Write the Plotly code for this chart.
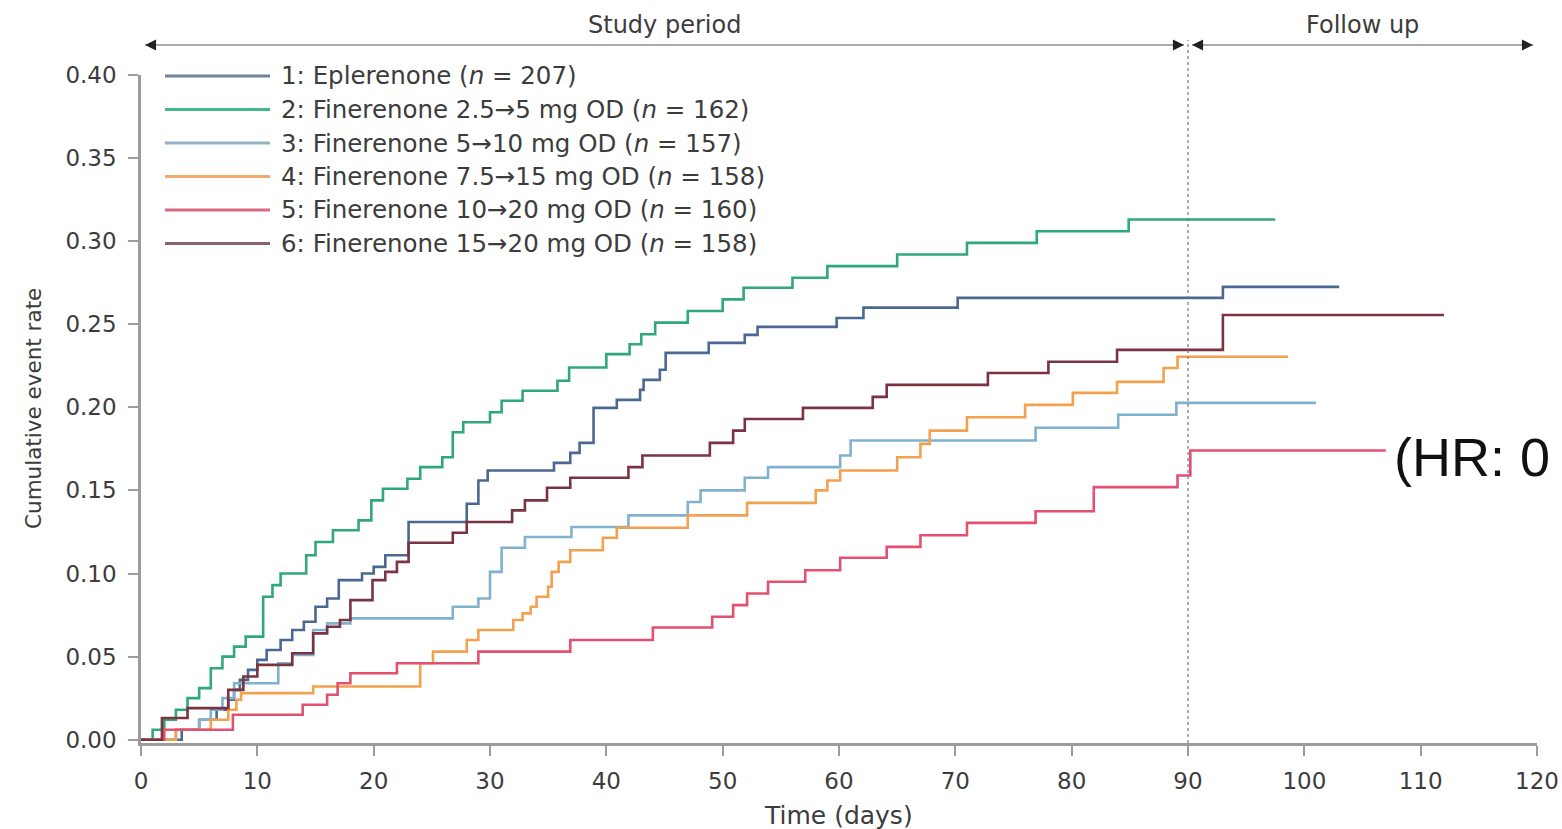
import plotly.graph_objects as go

# ---------------- data ----------------
labels = [
    "1: Eplerenone (<i>n</i> = 207)",
    "2: Finerenone 2.5→5 mg OD (<i>n</i> = 162)",
    "3: Finerenone 5→10 mg OD (<i>n</i> = 157)",
    "4: Finerenone 7.5→15 mg OD (<i>n</i> = 158)",
    "5: Finerenone 10→20 mg OD (<i>n</i> = 160)",
    "6: Finerenone 15→20 mg OD (<i>n</i> = 158)",
]

t_grp1 = [0, 3.5, 5, 6.5, 7.5, 8, 8.5, 9.2, 10, 10.8, 12, 13, 14, 15, 16, 17, 19, 20, 21, 23,
          28, 29, 29.8, 35.5, 36.9, 37.7, 38.9, 40.9, 42.9, 43.2, 44.6, 45.1, 48.8, 51.9, 53,
          59.8, 62.1, 70.2, 93]
y_grp1 = [0, 0.006, 0.012, 0.018, 0.024, 0.030, 0.036, 0.042, 0.048, 0.054, 0.060, 0.066, 0.071,
          0.080, 0.085, 0.096, 0.100, 0.104, 0.111, 0.131, 0.142, 0.156, 0.162, 0.1666, 0.1726,
          0.1786, 0.1997, 0.2045, 0.2105, 0.2165, 0.2226, 0.2328, 0.2388, 0.2436, 0.2484, 0.2538,
          0.260, 0.2659, 0.2725]

t_grp2 = [0, 1, 2, 3, 4, 5, 6, 7, 8, 9, 10.5, 11.3, 12, 14.2, 15, 16.5, 18.7, 19.8, 20.8, 22.9,
          24, 25.9, 26.8, 27.7, 30, 31, 32.8, 35.8, 36.8, 40, 42, 43, 44.2, 47, 50, 51.8, 56, 59,
          65, 71, 77, 84.9]
y_grp2 = [0, 0.006, 0.012, 0.018, 0.025, 0.031, 0.043, 0.050, 0.056, 0.062, 0.086, 0.093, 0.100,
          0.111, 0.119, 0.126, 0.132, 0.144, 0.151, 0.157, 0.164, 0.170, 0.185, 0.191, 0.197,
          0.204, 0.210, 0.216, 0.224, 0.232, 0.238, 0.244, 0.251, 0.258, 0.265, 0.272, 0.278,
          0.285, 0.292, 0.299, 0.306, 0.313]

t_grp3 = [0, 3, 5, 6, 7, 8, 11.8, 13, 14.8, 16, 18, 26.8, 29, 30, 31, 33, 37, 41.9, 47, 48.1,
          51.9, 53.9, 60.1, 61, 76.9, 84, 89]
y_grp3 = [0, 0.006, 0.012, 0.018, 0.025, 0.034, 0.046, 0.051, 0.066, 0.070, 0.073, 0.080, 0.085,
          0.101, 0.1155, 0.122, 0.128, 0.135, 0.143, 0.150, 0.1576, 0.164, 0.171, 0.180, 0.1877,
          0.1955, 0.2027]

t_grp4 = [0, 3, 6, 7.5, 8.2, 8.6, 14.8, 24.0, 25.1, 28.0, 29.0, 32.0, 32.8, 33.5, 34.0, 35.0,
          35.3, 35.9, 36.9, 39.7, 40.9, 47.0, 52.1, 58.0, 59.0, 60.1, 65.0, 67.0, 67.8, 71.0,
          76.0, 80.1, 83.9, 87.9, 89.1]
y_grp4 = [0, 0.006, 0.012, 0.018, 0.024, 0.028, 0.032, 0.046, 0.053, 0.060, 0.066, 0.072, 0.076,
          0.080, 0.086, 0.092, 0.101, 0.107, 0.114, 0.1215, 0.1275, 0.135, 0.1425, 0.150, 0.156,
          0.162, 0.170, 0.178, 0.186, 0.194, 0.2015, 0.2087, 0.2153, 0.2237, 0.2304]

t_grp5 = [0, 2, 7.9, 13.9, 16, 16.9, 18, 22, 29, 36.9, 44, 49.1, 50.9, 52.1, 53.9, 57.1, 60.1,
          64.1, 67, 71, 76.9, 81.9, 89.1, 90.2]
y_grp5 = [0, 0.006, 0.015, 0.021, 0.027, 0.034, 0.040, 0.046, 0.053, 0.060, 0.0675, 0.074,
          0.081, 0.088, 0.095, 0.102, 0.1095, 0.116, 0.123, 0.1305, 0.1375, 0.152, 0.159, 0.174]

t_grp6 = [0, 1.8, 4, 7.5, 8.8, 10, 13, 14.8, 16, 17.1, 18, 19.9, 21, 22, 23, 26.8, 28, 31.9, 33,
          34.9, 36.9, 41.9, 43.1, 48.9, 50.9, 51.9, 56.9, 62.9, 64.1, 72.8, 78, 83.9, 93]
y_grp6 = [0, 0.013, 0.019, 0.030, 0.038, 0.045, 0.052, 0.064, 0.068, 0.072, 0.084, 0.096, 0.101,
          0.107, 0.1185, 0.1245, 0.131, 0.138, 0.144, 0.1516, 0.1576, 0.164, 0.171, 0.1786,
          0.186, 0.193, 0.1997, 0.2063, 0.2135, 0.2207, 0.2274, 0.2346, 0.2556]

end_days = [103, 97.5, 101, 98.6, 107, 112]

x_ticks = [0, 10, 20, 30, 40, 50, 60, 70, 80, 90, 100, 110, 120]
y_ticks = [0.00, 0.05, 0.10, 0.15, 0.20, 0.25, 0.30, 0.35, 0.40]

period_labels = ["Study period", "Follow up"]
period_bounds = [(0, 90), (90, 120)]
hr_text = "(HR: 0"

# ---------------- styling ----------------
colors = ["#4a6891", "#2fa87a", "#80b1cf", "#f2a14f", "#e4506f", "#7a3340"]
legend_colors = ["#6f8497", "#45b58a", "#92b3c4", "#f0aa6c", "#d76a84", "#866468"]
FONT = "DejaVu Sans"
GRAY = "#9c9c9c"
TXT = "#3c3c3c"

W, H = 1562, 829
ML, MR, MT, MB = 141, 25, 75, 86
plot_w = W - ML - MR
plot_h = H - MT - MB

series_t = [t_grp1, t_grp2, t_grp3, t_grp4, t_grp5, t_grp6]
series_y = [y_grp1, y_grp2, y_grp3, y_grp4, y_grp5, y_grp6]

fig = go.Figure()
for i in range(6):
    xs = list(series_t[i]) + [end_days[i]]
    ys = list(series_y[i]) + [series_y[i][-1]]
    fig.add_trace(go.Scatter(
        x=xs, y=ys, mode="lines", line=dict(color=colors[i], width=2.6, shape="hv"),
        name=labels[i], showlegend=False, hoverinfo="skip"))


def py_to_paper(py):
    return (H - MB - py) / plot_h


def px_to_paper(px):
    return (px - ML) / plot_w


shapes = []
annotations = []

# custom legend (long line samples as in the reference)
row_px = [76, 109.5, 143, 176.5, 210, 243.5]
for i in range(6):
    yp = py_to_paper(row_px[i])
    shapes.append(dict(type="line", xref="paper", yref="paper",
                       x0=px_to_paper(165), x1=px_to_paper(270),
                       y0=yp, y1=yp, line=dict(color=legend_colors[i], width=3)))
    annotations.append(dict(xref="paper", yref="paper", x=px_to_paper(279), y=yp,
                            xanchor="left", yanchor="middle", showarrow=False,
                            text=labels[i], font=dict(family=FONT, size=24.5, color=TXT)))

# vertical dotted line at end of study period
shapes.append(dict(type="line", xref="x", yref="paper", x0=90, x1=90,
                   y0=0, y1=py_to_paper(40), line=dict(color="#777777", width=1.2, dash="dot")))

# period arrows
arrow_y = py_to_paper(45)
for (a, b), lab in zip(period_bounds, period_labels):
    pad = 0.35
    shapes.append(dict(type="line", xref="x", yref="paper", x0=a + pad, x1=b - pad,
                       y0=arrow_y, y1=arrow_y, line=dict(color="#aaaaaa", width=2)))
    for xh, ax in ((a + pad, 10), (b - pad, -10)):
        annotations.append(dict(xref="x", yref="paper", x=xh, y=arrow_y, ax=ax, ay=0,
                                axref="pixel", ayref="pixel", text="", showarrow=True,
                                arrowhead=2, arrowsize=1.1, arrowwidth=2, arrowcolor="#222222"))
    annotations.append(dict(xref="x", yref="paper", x=(a + b) / 2,
                            y=py_to_paper(25), text=lab, showarrow=False,
                            xanchor="center", yanchor="middle",
                            font=dict(family=FONT, size=24, color=TXT)))

# HR text next to group 5, kept fully inside the page
annotations.append(dict(xref="x", yref="y", x=end_days[4] + 0.5, y=series_y[4][-1],
                        xanchor="left", yanchor="middle", yshift=-6, showarrow=False,
                        text=hr_text, font=dict(family="Liberation Sans", size=54, color="#111111")))

# axis titles
annotations.append(dict(xref="paper", yref="paper", x=px_to_paper(33), y=0.5,
                        textangle=-90, showarrow=False, xanchor="center", yanchor="middle",
                        text="Cumulative event rate", font=dict(family=FONT, size=21.5, color=TXT)))
annotations.append(dict(xref="paper", yref="paper", x=px_to_paper(838),
                        y=py_to_paper(815), showarrow=False, xanchor="center", yanchor="middle",
                        text="Time (days)", font=dict(family=FONT, size=25, color=TXT)))

fig.update_layout(
    width=W, height=H,
    margin=dict(l=ML, r=MR, t=MT, b=MB, pad=0, autoexpand=False),
    plot_bgcolor="white", paper_bgcolor="white",
    shapes=shapes, annotations=annotations,
    showlegend=False,
)
fig.update_xaxes(range=[0, 120], tickvals=x_ticks, ticktext=[str(v) for v in x_ticks],
                 automargin=False,
                 showgrid=False, zeroline=False, showline=True, linecolor=GRAY, linewidth=2.5,
                 ticks="outside", ticklen=10, tickwidth=2, tickcolor=GRAY,
                 ticklabelstandoff=6,
                 tickfont=dict(family=FONT, size=23, color=TXT))
fig.update_yaxes(range=[-0.002, 0.40], tickvals=y_ticks, ticktext=[f"{v:.2f}" for v in y_ticks],
                 automargin=False,
                 showgrid=False, zeroline=False, showline=True, linecolor=GRAY, linewidth=2.5,
                 ticks="outside", ticklen=10, tickwidth=2, tickcolor=GRAY,
                 ticklabelstandoff=7,
                 tickfont=dict(family=FONT, size=23, color=TXT))

fig.write_html("out.html", config={"displayModeBar": False},
               post_script="document.body.style.margin='0';document.body.style.overflow='hidden';")
